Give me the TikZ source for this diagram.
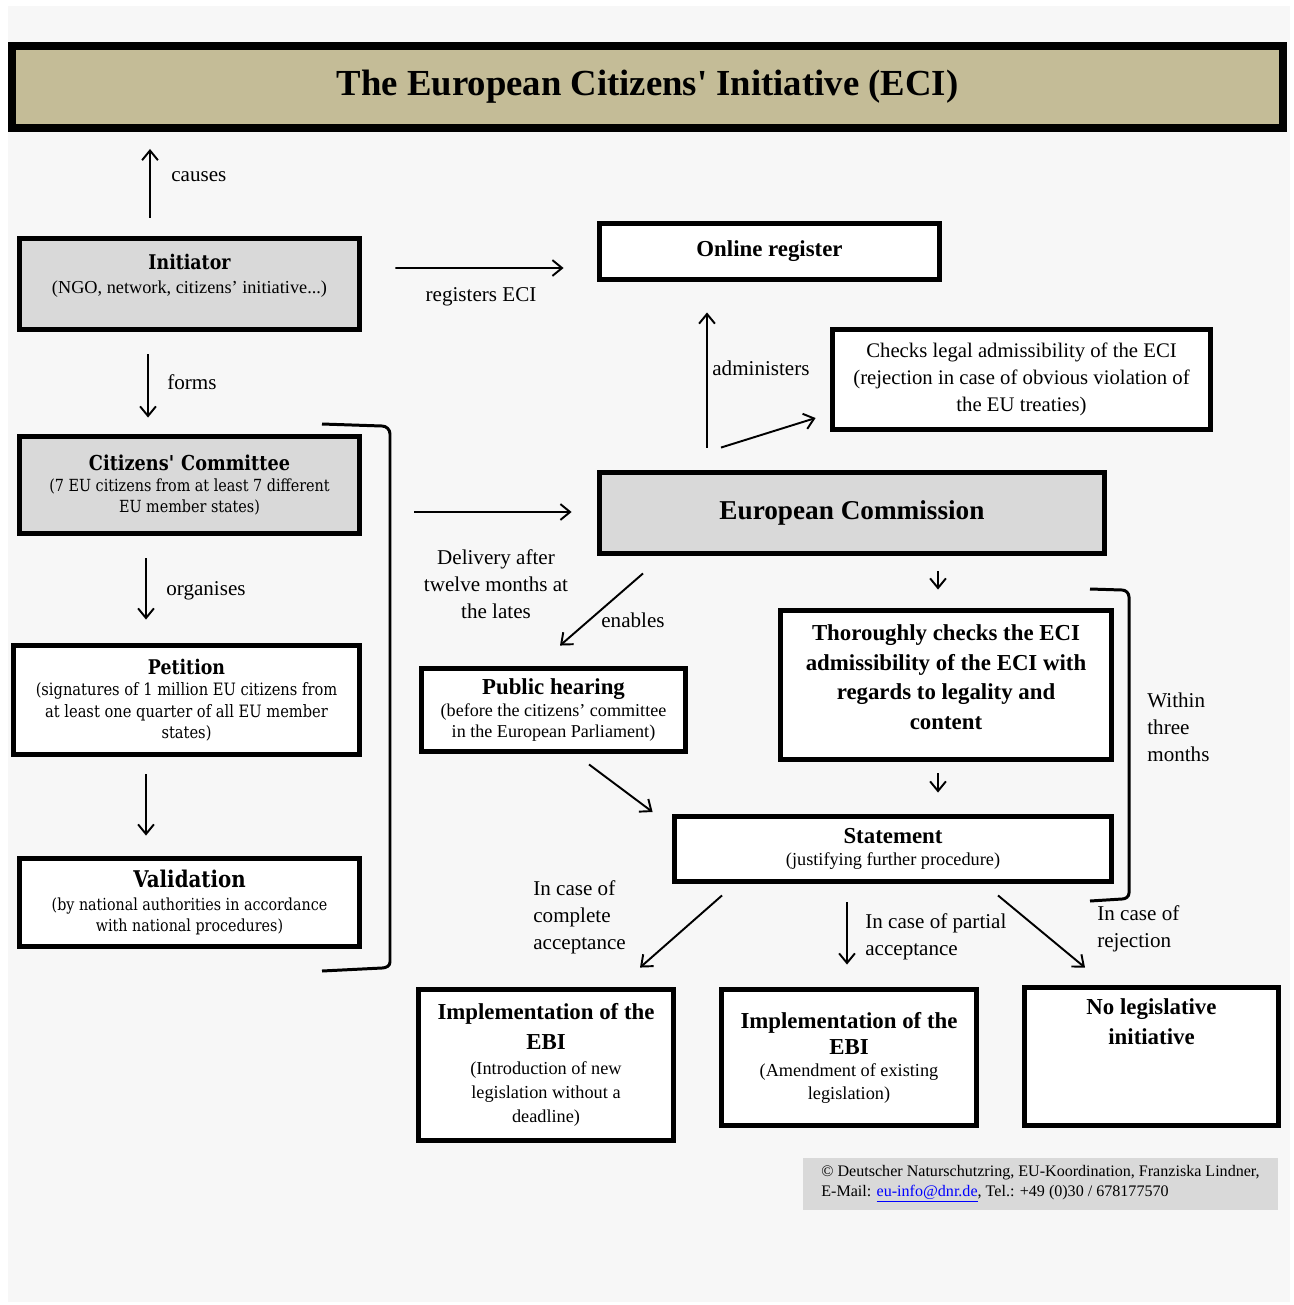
\documentclass[tikz,border=0pt]{standalone}
\usepackage{fontspec}
\setmainfont{Liberation Serif}
\newfontfamily\schoolfont[FakeStretch=0.86]{DejaVu Serif}
\usetikzlibrary{arrows.meta,calc}
\definecolor{pagegray}{HTML}{F7F7F7}
\definecolor{boxgray}{HTML}{D9D9D9}
\definecolor{titletan}{HTML}{C4BC97}
\tikzset{
  box/.style={draw=black, line width=2.8pt, rectangle, align=center, fill=white, inner sep=2pt},
  graybox/.style={box, fill=boxgray},
  signal/.style={-{Straight Barb[length=5.5pt,width=9pt]}, line width=1.1pt, draw=black},
  brace/.style={line width=1.7pt, draw=black},
  note/.style={font=\fontsize{12}{15.4}\selectfont, inner sep=0pt}
}

\begin{document}
\begin{tikzpicture}[x=0.02cm, y=-0.02cm]
  \useasboundingbox (0,0) rectangle (1294,1305);
  \fill[white] (0,0) rectangle (1294,1305);
  \fill[pagegray] (8,6) rectangle (1290,1302);

  \node[draw=black, line width=4.55pt, fill=titletan, minimum width=25.42cm, minimum height=1.64cm, font=\bfseries\fontsize{20.9}{24}\selectfont] (title) at (647.5,87) {The European Citizens\textquotesingle{} Initiative (ECI)};

  \node[graybox, minimum width=6.8cm, minimum height=1.82cm, text depth=12pt, font=\fontsize{10.4}{13.7}\selectfont] (initiator) at (189.5,284) {{\schoolfont\bfseries\fontsize{11.5}{13}\selectfont Initiator}\\(NGO, network, citizens' initiative...)};
  \node[graybox, minimum width=6.8cm, minimum height=1.94cm, font=\schoolfont\fontsize{9.5}{12}\selectfont] (committee) at (189.5,485) {{\bfseries\fontsize{11.7}{12}\selectfont Citizens\textquotesingle{} Committee}\\(7 EU citizens from at least 7 different\\EU member states)};
  \node[box, minimum width=6.92cm, minimum height=2.18cm, font=\schoolfont\fontsize{9.7}{12.2}\selectfont] (petition) at (186.5,700) {{\bfseries\fontsize{11.5}{12}\selectfont Petition}\\(signatures of 1 million EU citizens from\\at least one quarter of all EU member\\states)};
  \node[box, minimum width=6.8cm, minimum height=1.76cm, font=\schoolfont\fontsize{9.45}{12}\selectfont] (validation) at (189.5,902.5) {{\bfseries\fontsize{13.1}{13}\selectfont Validation}\\[1pt](by national authorities in accordance\\with national procedures)};

  \node[box, minimum width=6.8cm, minimum height=1.12cm, font=\bfseries\fontsize{13}{15}\selectfont] (register) at (769.5,251.5) {Online register};
  \node[box, minimum width=7.56cm, minimum height=2.0cm, font=\fontsize{11.8}{15.4}\selectfont] (checks) at (1021.5,379.5) {Checks legal admissibility of the ECI\\(rejection in case of obvious violation of\\the EU treaties)};
  \node[graybox, minimum width=10.1cm, minimum height=1.62cm, font=\bfseries\fontsize{15.5}{18}\selectfont] (commission) at (852,513) {European Commission};
  \node[box, minimum width=5.28cm, minimum height=1.66cm, font=\fontsize{10.3}{12}\selectfont] (hearing) at (553.5,710) {{\bfseries\fontsize{13}{14}\selectfont Public hearing}\\[1pt](before the citizens' committee\\in the European Parliament)};
  \node[box, minimum width=6.62cm, minimum height=2.98cm, text depth=9pt, font=\bfseries\fontsize{13}{17}\selectfont] (thorough) at (946,685) {Thoroughly checks the ECI\\admissibility of the ECI with\\regards to legality and\\content};
  \node[box, minimum width=8.74cm, minimum height=1.3cm, font=\fontsize{10.4}{12.5}\selectfont] (statement) at (893,849) {{\bfseries\fontsize{13}{14}\selectfont Statement}\\(justifying further procedure)};

  \node[box, minimum width=5.1cm, minimum height=3.02cm, font=\fontsize{10.4}{13.8}\selectfont] (implnew) at (546,1065) {{\bfseries\fontsize{13}{16.5}\selectfont Implementation of the}\\[3.5pt]{\bfseries\fontsize{13}{16.5}\selectfont EBI}\\(Introduction of new\\legislation without a\\deadline)};
  \node[box, minimum width=5.1cm, minimum height=2.72cm, font=\fontsize{10.4}{12.8}\selectfont] (implamend) at (849,1057.5) {{\bfseries\fontsize{13}{15}\selectfont Implementation of the}\\[2pt]{\bfseries\fontsize{13}{15}\selectfont EBI}\\(Amendment of existing\\legislation)};
  \node[box, minimum width=5.08cm, minimum height=2.76cm, text depth=40pt, font=\bfseries\fontsize{13}{17}\selectfont] (nolegis) at (1151.5,1056.5) {No legislative\\initiative};

  \node[fill=boxgray, minimum width=9.5cm, minimum height=1.04cm, align=left, font=\fontsize{9.15}{11.4}\selectfont] (credit) at (1040.5,1184) {\textcopyright{} Deutscher Naturschutzring, EU-Koordination, Franziska Lindner,\\E-Mail: \textcolor{blue}{\underline{eu-info@dnr.de}}, Tel.: +49 (0)30 / 678177570};

  \draw[signal] ($(initiator.north)+(-39.5,-18.5)$) -- ($(title.south)+(-497.5,17)$);
  \draw[signal] ($(initiator.east)+(33.5,-16)$) -- ($(register.west)+(-33.5,16.5)$);
  \draw[signal] ($(initiator.south)+(-41.5,22.5)$) -- ($(committee.north)+(-41.5,-16.5)$);
  \draw[signal] ($(committee.east)+(52.5,27)$) -- ($(commission.west)+(-25.5,-1)$);
  \draw[signal] ($(committee.south)+(-43.5,22.5)$) -- ($(petition.north)+(-40.5,-23.5)$);
  \draw[signal] ($(petition.south)+(-40.5,17.5)$) -- ($(validation.north)+(-43.5,-20.5)$);
  \draw[signal] ($(commission.north)+(-145,-22.5)$) -- ($(register.south)+(-62.5,30.5)$);
  \draw[signal] ($(commission.north)+(-131,-22.5)$) -- ($(checks.west)+(-14.5,38.5)$);
  \draw[signal] ($(commission.south)+(-209,17.5)$) -- ($(hearing.north)+(6.5,-20.5)$);
  \draw[signal] ($(commission.south)+(86,15.5)$) -- ($(thorough.north)+(-8,-18.5)$);
  \draw[signal] ($(thorough.south)+(-8,11.5)$) -- ($(statement.north)+(45,-21.5)$);
  \draw[signal] ($(hearing.south)+(35.5,10.5)$) -- ($(statement.west)+(-19.5,-37)$);
  \draw[signal] ($(statement.south)+(-171,11.5)$) -- ($(implnew.north)+(94,-19.5)$);
  \draw[signal] ($(statement.south)+(-46,18.5)$) -- ($(implamend.north)+(-2,-22.5)$);
  \draw[signal] ($(statement.south)+(105,11.5)$) -- ($(nolegis.north)+(-66.5,-17.5)$);

  \draw[brace] (322,424) -- (382,426) to[out=0,in=90] (390,434) -- (390,962) to[out=-90,in=0] (382,968) -- (322,971);
  \draw[brace] (1090,589) -- (1122,590) to[out=0,in=90] (1129,597) -- (1129,893) to[out=-90,in=0] (1122,899) -- (1090,901);

  \node[note, anchor=west] (lcauses) at (171,177) {causes};
  \node[note] (lregisters) at (481,297) {registers ECI};
  \node[note, anchor=west] (lforms) at (167,382) {forms};
  \node[note, anchor=west] (lorganises) at (166,591) {organises};
  \node[note, anchor=west] (ladministers) at (712,368) {administers};
  \node[note, align=center] (ldelivery) at (496,584) {Delivery after\\twelve months at\\the lates};
  \node[note, anchor=west] (lenables) at (601,620) {enables};
  \node[note, anchor=west, align=left] (lwithin) at (1147,727) {Within\\three\\months};
  \node[note, anchor=west, align=left] (lcomplete) at (533,917) {In case of\\complete\\acceptance};
  \node[note, anchor=west, align=left] (lpartial) at (865,937) {In case of partial\\acceptance};
  \node[note, anchor=west, align=left] (lrejection) at (1097,929) {In case of\\rejection};
\end{tikzpicture}
\end{document}
